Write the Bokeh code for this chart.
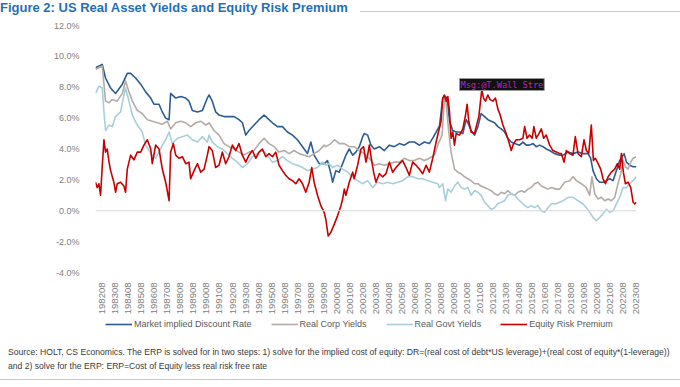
import math
from bokeh.plotting import figure
from bokeh.layouts import column
from bokeh.models import (Range1d, FixedTicker, PrintfTickFormatter, CustomJSTickFormatter,
                          Span, Label, Legend, LegendItem, Div)
from bokeh.embed import file_html
from bokeh.resources import INLINE

TITLE = "Figure 2: US Real Asset Yields and Equity Risk Premium"
SOURCE_1 = ("Source: HOLT, CS Economics. The ERP is solved for in two steps: 1) solve for the implied cost of equity: "
            "DR=(real cost of debt*US leverage)+(real cost of equity*(1-leverage))")
SOURCE_2 = "and 2) solve for the ERP: ERP=Cost of Equity less real risk free rate"
WATERMARK = "Msg:@T.Wall Stre"

series_names = ["Market implied Discount Rate", "Real Corp Yields", "Real Govt Yields", "Equity Risk Premium"]
y_ticks = [-4, -2, 0, 2, 4, 6, 8, 10, 12]
tick_years = [y + 0.5833 for y in range(1982, 2024)]
tick_labels = [f"{y}08" for y in range(1982, 2024)]

# (decimal year, %)
discount_rate = [
    (1982.06, 9.26), (1982.58, 9.48), (1982.83, 8.6), (1983.22, 7.95), (1983.6, 7.6), (1984.12, 8.2),
    (1984.5, 8.9), (1984.76, 8.9), (1985.14, 8.6), (1985.53, 8.2), (1985.91, 7.7), (1986.3, 7.3),
    (1986.55, 6.9), (1986.94, 6.9), (1987.19, 6.4), (1987.45, 6.0), (1987.71, 5.9), (1987.83, 7.6),
    (1988.22, 7.3), (1988.6, 7.4), (1988.99, 7.3), (1989.24, 7.1), (1989.5, 6.5), (1989.89, 6.4),
    (1990.27, 6.5), (1990.65, 7.3), (1990.78, 7.5), (1991.03, 7.1), (1991.29, 6.4), (1991.55, 6.2),
    (1991.93, 6.1), (1992.31, 6.1), (1992.7, 6.1), (1993.08, 5.9), (1993.34, 5.7), (1993.6, 4.9),
    (1993.85, 5.2), (1994.24, 5.55), (1994.62, 5.9), (1995.01, 6.2), (1995.26, 6.0), (1995.65, 5.7),
    (1996.03, 5.45), (1996.42, 5.45), (1996.8, 5.1), (1997.19, 4.9), (1997.57, 4.6), (1997.96, 4.15),
    (1998.34, 3.7), (1998.6, 4.45), (1998.85, 3.6), (1999.24, 3.05), (1999.63, 3.05), (1999.88, 3.25),
    (2000.14, 2.4), (2000.27, 1.85), (2000.52, 2.6), (2000.78, 2.5), (2001.04, 3.05), (2001.29, 3.6),
    (2001.55, 4.0), (2001.81, 3.6), (2002.06, 3.8), (2002.32, 4.15), (2002.58, 4.8), (2002.7, 5.0),
    (2002.96, 4.9), (2003.22, 4.25), (2003.47, 4.0), (2003.86, 4.15), (2004.24, 3.9), (2004.63, 4.25),
    (2005.01, 4.15), (2005.4, 4.35), (2005.78, 4.25), (2006.16, 4.45), (2006.55, 4.45), (2006.93, 4.25),
    (2007.32, 4.45), (2007.7, 4.35), (2007.96, 4.7), (2008.22, 5.1), (2008.48, 5.5), (2008.73, 7.3),
    (2008.91, 7.4), (2009.07, 7.3), (2009.25, 5.8), (2009.5, 5.2), (2009.76, 5.1), (2010.01, 5.1),
    (2010.27, 5.0), (2010.53, 5.9), (2010.66, 5.7), (2010.91, 5.2), (2011.17, 4.9), (2011.43, 5.45),
    (2011.68, 6.3), (2011.94, 6.1), (2012.2, 5.9), (2012.45, 5.8), (2012.71, 5.7), (2012.96, 5.45),
    (2013.22, 5.3), (2013.48, 5.1), (2013.73, 4.7), (2013.99, 4.45), (2014.25, 4.35), (2014.63, 4.25),
    (2014.89, 4.45), (2015.14, 4.25), (2015.4, 4.25), (2015.66, 4.35), (2015.91, 4.15), (2016.17, 4.25),
    (2016.43, 4.15), (2016.68, 4.0), (2016.94, 3.9), (2017.32, 3.7), (2017.71, 3.6), (2017.96, 3.6),
    (2018.35, 3.8), (2018.73, 3.7), (2019.12, 3.8), (2019.5, 3.7), (2019.89, 3.7), (2020.09, 3.4),
    (2020.27, 2.6), (2020.53, 2.07), (2020.78, 1.85), (2021.04, 1.85), (2021.3, 1.95), (2021.55, 2.07),
    (2021.81, 1.95), (2022.07, 2.6), (2022.32, 3.25), (2022.5, 3.5), (2022.66, 3.7), (2022.84, 3.15),
    (2023.09, 2.95), (2023.35, 2.85), (2023.6, 2.85),
]

real_corp = [
    (1982.06, 9.15), (1982.32, 9.26), (1982.58, 9.37), (1982.83, 7.1), (1983.09, 7.0), (1983.35, 7.2),
    (1983.73, 7.1), (1984.12, 7.6), (1984.37, 8.4), (1984.63, 7.7), (1984.89, 7.1), (1985.27, 6.5),
    (1985.65, 6.3), (1986.04, 5.9), (1986.42, 5.8), (1986.81, 5.7), (1987.19, 5.6), (1987.58, 5.8),
    (1987.83, 5.3), (1988.22, 5.7), (1988.6, 5.8), (1988.99, 5.7), (1989.37, 5.45), (1989.76, 5.7),
    (1990.14, 5.8), (1990.53, 5.55), (1990.78, 5.7), (1991.16, 5.2), (1991.55, 4.9), (1991.93, 4.35),
    (1992.31, 4.15), (1992.7, 4.0), (1993.08, 3.8), (1993.47, 3.6), (1993.85, 3.8), (1994.24, 3.9),
    (1994.62, 4.35), (1995.01, 4.7), (1995.39, 4.35), (1995.78, 4.15), (1996.16, 3.8), (1996.55, 3.9),
    (1996.93, 3.7), (1997.31, 3.9), (1997.7, 3.7), (1998.08, 3.6), (1998.47, 3.5), (1998.85, 3.7),
    (1999.24, 3.9), (1999.62, 4.25), (1999.75, 4.15), (2000.14, 4.35), (2000.4, 4.6), (2000.78, 4.35),
    (2001.17, 4.35), (2001.55, 4.15), (2001.93, 4.15), (2002.32, 3.9), (2002.7, 3.7), (2003.09, 3.4),
    (2003.47, 2.95), (2003.86, 3.05), (2004.24, 2.95), (2004.63, 3.05), (2005.01, 3.15), (2005.4, 3.15),
    (2005.78, 3.4), (2006.16, 3.25), (2006.55, 3.25), (2006.93, 3.4), (2007.32, 3.25), (2007.7, 3.4),
    (2008.09, 3.6), (2008.34, 4.25), (2008.68, 4.9), (2008.86, 7.3), (2008.99, 7.0), (2009.19, 5.1),
    (2009.37, 3.8), (2009.63, 2.7), (2009.89, 2.5), (2010.14, 2.4), (2010.4, 2.2), (2010.66, 2.07),
    (2010.91, 1.95), (2011.17, 1.75), (2011.43, 1.75), (2011.68, 1.6), (2011.94, 1.5), (2012.2, 1.4),
    (2012.45, 1.3), (2012.71, 1.1), (2012.96, 1.0), (2013.22, 1.2), (2013.48, 1.1), (2013.73, 1.3),
    (2013.99, 1.1), (2014.25, 1.0), (2014.5, 1.2), (2014.76, 1.3), (2015.02, 1.2), (2015.27, 1.4),
    (2015.53, 1.5), (2015.78, 1.75), (2016.04, 1.85), (2016.3, 1.6), (2016.55, 1.5), (2016.81, 1.4),
    (2017.07, 1.5), (2017.45, 1.4), (2017.71, 1.4), (2018.09, 1.85), (2018.48, 1.95), (2018.73, 2.2),
    (2018.99, 1.95), (2019.37, 1.75), (2019.76, 1.5), (2020.01, 1.0), (2020.19, 2.2), (2020.4, 1.1),
    (2020.66, 0.76), (2020.91, 0.87), (2021.17, 0.65), (2021.43, 0.76), (2021.68, 0.65), (2021.94, 0.87),
    (2022.19, 1.75), (2022.4, 2.4), (2022.58, 3.25), (2022.76, 2.85), (2022.96, 2.7), (2023.17, 3.15),
    (2023.35, 3.4), (2023.6, 3.5),
]

real_govt = [
    (1982.06, 7.6), (1982.32, 8.06), (1982.58, 7.95), (1982.71, 6.4), (1982.83, 5.2), (1983.09, 5.55),
    (1983.35, 5.45), (1983.6, 6.1), (1983.99, 6.4), (1984.24, 7.5), (1984.37, 7.95), (1984.63, 7.1),
    (1984.89, 6.2), (1985.27, 5.55), (1985.65, 5.1), (1985.91, 4.25), (1986.17, 3.9), (1986.42, 3.6),
    (1986.68, 3.4), (1986.94, 3.8), (1987.19, 4.25), (1987.45, 4.6), (1987.71, 5.1), (1987.96, 4.35),
    (1988.35, 4.7), (1988.73, 4.8), (1989.12, 4.9), (1989.5, 4.6), (1989.89, 4.45), (1990.27, 4.8),
    (1990.65, 4.45), (1990.78, 4.9), (1991.03, 4.45), (1991.42, 4.15), (1991.8, 4.0), (1992.19, 3.7),
    (1992.57, 3.4), (1992.96, 3.15), (1993.34, 2.8), (1993.73, 3.05), (1994.11, 3.5), (1994.49, 3.7),
    (1994.88, 3.9), (1995.26, 3.6), (1995.65, 3.15), (1996.03, 3.25), (1996.42, 3.5), (1996.8, 3.25),
    (1997.19, 3.05), (1997.57, 2.95), (1997.96, 2.8), (1998.34, 2.6), (1998.73, 2.7), (1999.11, 2.8),
    (1999.49, 3.15), (1999.75, 2.95), (2000.01, 3.05), (2000.27, 2.8), (2000.65, 2.95), (2001.04, 2.7),
    (2001.42, 2.5), (2001.81, 2.2), (2002.19, 1.95), (2002.58, 1.75), (2002.96, 1.95), (2003.34, 1.5),
    (2003.73, 1.85), (2004.11, 1.75), (2004.5, 1.85), (2004.88, 1.75), (2005.27, 1.85), (2005.65, 1.95),
    (2006.04, 2.2), (2006.42, 2.2), (2006.81, 2.07), (2007.19, 2.07), (2007.58, 1.95), (2007.96, 1.85),
    (2008.34, 1.75), (2008.48, 1.5), (2008.73, 1.75), (2008.94, 0.65), (2009.12, 1.4), (2009.37, 1.2),
    (2009.63, 1.6), (2009.89, 1.85), (2010.14, 1.5), (2010.4, 1.4), (2010.66, 1.5), (2010.91, 1.0),
    (2011.17, 1.3), (2011.43, 1.2), (2011.68, 1.0), (2011.94, 0.55), (2012.2, 0.33), (2012.45, 0.1),
    (2012.71, 0.2), (2012.96, 0.45), (2013.22, 0.55), (2013.48, 0.65), (2013.73, 1.0), (2013.99, 1.1),
    (2014.25, 1.0), (2014.5, 0.76), (2014.76, 0.55), (2015.02, 0.33), (2015.27, 0.2), (2015.53, 0.33),
    (2015.78, 0.2), (2016.04, 0.33), (2016.3, 0.0), (2016.55, -0.1), (2016.81, 0.2), (2017.07, 0.45),
    (2017.45, 0.45), (2017.96, 0.65), (2018.35, 0.87), (2018.73, 0.87), (2019.12, 0.65), (2019.5, 0.44),
    (2019.76, 0.2), (2020.01, -0.1), (2020.27, -0.44), (2020.53, -0.65), (2020.78, -0.44), (2021.04, -0.2),
    (2021.3, 0.1), (2021.55, -0.1), (2021.81, 0.0), (2022.07, 0.44), (2022.32, 0.87), (2022.58, 1.5),
    (2022.84, 1.5), (2023.09, 1.75), (2023.35, 1.95), (2023.6, 2.2),
]

equity_risk_premium = [
    (1982.06, 1.85), (1982.19, 1.5), (1982.32, 1.75), (1982.45, 1.0), (1982.58, 2.9), (1982.71, 4.6),
    (1982.83, 3.8), (1982.96, 4.0), (1983.09, 3.2), (1983.22, 2.6), (1983.47, 1.85), (1983.6, 1.2),
    (1983.73, 1.75), (1983.99, 1.85), (1984.24, 1.6), (1984.37, 1.2), (1984.5, 2.7), (1984.76, 3.6),
    (1985.01, 3.3), (1985.27, 3.8), (1985.53, 3.8), (1985.78, 4.25), (1986.04, 4.6), (1986.3, 4.0),
    (1986.42, 3.05), (1986.68, 4.25), (1986.94, 4.0), (1987.19, 2.7), (1987.45, 1.85), (1987.71, 0.65),
    (1987.83, 3.8), (1988.04, 4.35), (1988.22, 3.6), (1988.47, 3.4), (1988.73, 3.5), (1988.99, 3.05),
    (1989.24, 3.15), (1989.37, 2.07), (1989.63, 2.6), (1989.89, 3.05), (1990.14, 2.5), (1990.4, 2.7),
    (1990.65, 3.6), (1990.78, 4.15), (1991.03, 3.9), (1991.29, 2.8), (1991.55, 2.95), (1991.8, 3.8),
    (1992.06, 3.05), (1992.31, 3.5), (1992.57, 4.25), (1992.83, 3.9), (1993.08, 4.35), (1993.34, 3.6),
    (1993.6, 3.15), (1993.85, 3.6), (1994.11, 3.9), (1994.37, 3.4), (1994.62, 3.8), (1994.88, 4.0),
    (1995.14, 3.5), (1995.39, 3.7), (1995.65, 3.5), (1995.9, 3.8), (1996.16, 2.95), (1996.42, 2.6),
    (1996.67, 2.3), (1996.93, 2.07), (1997.19, 1.95), (1997.44, 1.75), (1997.7, 2.07), (1997.96, 1.75),
    (1998.21, 1.2), (1998.47, 1.85), (1998.67, 2.8), (1998.85, 1.85), (1999.11, 1.0), (1999.37, 0.33),
    (1999.62, -0.1), (1999.75, -0.55), (1999.93, -1.63), (2000.14, -1.4), (2000.4, -0.87), (2000.65, -0.33),
    (2000.91, 0.33), (2001.04, 0.76), (2001.17, 1.4), (2001.29, 1.0), (2001.55, 1.85), (2001.81, 2.5),
    (2001.93, 2.07), (2002.19, 2.95), (2002.45, 4.0), (2002.65, 4.15), (2002.83, 3.15), (2002.96, 3.6),
    (2003.09, 4.25), (2003.22, 3.5), (2003.42, 2.5), (2003.6, 1.85), (2003.86, 2.4), (2004.11, 2.2),
    (2004.37, 2.4), (2004.63, 3.15), (2004.88, 2.5), (2005.14, 2.8), (2005.4, 3.05), (2005.65, 3.25),
    (2005.91, 2.8), (2006.16, 2.3), (2006.42, 3.15), (2006.68, 2.95), (2006.93, 2.7), (2007.19, 2.4),
    (2007.45, 2.95), (2007.7, 2.5), (2007.96, 3.4), (2008.22, 4.45), (2008.4, 5.1), (2008.6, 5.8),
    (2008.73, 7.3), (2008.86, 7.5), (2008.99, 7.1), (2009.12, 7.4), (2009.25, 6.4), (2009.37, 4.7),
    (2009.5, 5.1), (2009.63, 4.25), (2009.76, 5.0), (2010.01, 4.9), (2010.27, 5.3), (2010.48, 6.2),
    (2010.6, 6.9), (2010.73, 5.8), (2010.91, 5.1), (2011.17, 5.0), (2011.3, 5.45), (2011.5, 6.1),
    (2011.63, 7.1), (2011.73, 7.85), (2011.86, 7.3), (2012.01, 7.1), (2012.19, 7.5), (2012.37, 7.2),
    (2012.58, 7.1), (2012.78, 7.3), (2012.96, 6.6), (2013.14, 6.2), (2013.35, 5.55), (2013.6, 5.0),
    (2013.81, 4.45), (2013.99, 3.9), (2014.17, 4.35), (2014.37, 4.6), (2014.63, 4.6), (2014.89, 4.7),
    (2015.02, 5.45), (2015.2, 4.7), (2015.4, 4.9), (2015.6, 4.7), (2015.73, 5.45), (2015.91, 4.7),
    (2016.12, 5.0), (2016.3, 5.3), (2016.48, 4.7), (2016.68, 4.9), (2016.94, 4.25), (2017.19, 3.9),
    (2017.45, 3.8), (2017.71, 3.7), (2017.84, 3.7), (2018.04, 3.15), (2018.22, 3.9), (2018.48, 3.7),
    (2018.73, 3.6), (2018.91, 4.8), (2019.12, 3.7), (2019.37, 3.5), (2019.58, 4.6), (2019.76, 3.9),
    (2019.94, 3.7), (2020.14, 5.55), (2020.3, 3.25), (2020.45, 3.4), (2020.66, 3.05), (2020.86, 2.7),
    (2021.04, 2.07), (2021.22, 1.75), (2021.43, 2.2), (2021.68, 2.5), (2021.94, 2.7), (2022.14, 3.05),
    (2022.32, 2.7), (2022.45, 3.7), (2022.6, 2.5), (2022.76, 1.75), (2022.96, 1.85), (2023.17, 1.5),
    (2023.35, 0.55), (2023.48, 0.44), (2023.6, 0.55),
]

colors = ["#2C5D92", "#B5ABA6", "#A9CEDB", "#C80000"]
all_series = [discount_rate, real_corp, real_govt, equity_risk_premium]

GRAY_TXT = "#808080"
FONT = "Liberation Sans"

# ---- title block (0..15 px)
title_div = Div(width=680, height=15, text=(
    f'<div style="position:relative;width:680px;height:15px;font-family:\'{FONT}\',Arial,sans-serif;">'
    f'<span style="position:absolute;left:0px;top:0px;font-size:13px;font-weight:bold;color:#1F70B8;'
    f'line-height:15px;white-space:nowrap;">{TITLE}</span>'
    f'<div style="position:absolute;left:360px;width:320px;top:11px;height:0px;border-top:1px solid #C8C8C8;"></div>'
    f'</div>'), styles={"margin": "0px", "padding": "0px"})

# ---- chart (15..317 px)
p = figure(width=680, height=302, output_backend="svg", toolbar_location=None,
           x_range=Range1d(1982.06, 2023.61), y_range=Range1d(-4, 12),
           min_border_left=95, min_border_right=44, min_border_top=10, min_border_bottom=45)
p.outline_line_color = None
p.grid.visible = False
p.background_fill_color = "white"
p.border_fill_color = "white"

p.yaxis.ticker = FixedTicker(ticks=y_ticks)
p.yaxis.formatter = PrintfTickFormatter(format="%.1f%%")
p.yaxis.axis_line_color = None
p.yaxis.major_tick_line_color = None
p.yaxis.minor_tick_line_color = None
p.yaxis.major_label_standoff = 10
p.yaxis.major_label_text_font = FONT
p.yaxis.major_label_text_font_size = "9px"
p.yaxis.major_label_text_color = GRAY_TXT

p.xaxis.ticker = FixedTicker(ticks=tick_years)
p.xaxis.formatter = CustomJSTickFormatter(args=dict(labels=tick_labels), code="return labels[index];")
p.xaxis.major_label_orientation = math.pi / 2
p.xaxis.axis_line_color = None
p.xaxis.major_tick_line_color = None
p.xaxis.minor_tick_line_color = None
p.xaxis.major_label_standoff = 4
p.xaxis.major_label_text_font = FONT
p.xaxis.major_label_text_font_size = "9.5px"
p.xaxis.major_label_text_color = GRAY_TXT

p.add_layout(Span(location=0, dimension="width", line_color="#D9D9D9", line_width=1.2))

for name, data, c in zip(series_names, all_series, colors):
    xs = [d[0] for d in data]
    ys = [d[1] for d in data]
    p.line(xs, ys, line_color=c, line_width=1.6, line_join="round")

p.add_layout(Label(x=364, y=194, x_units="screen", y_units="screen", text=WATERMARK,
                   text_font="DejaVu Sans Mono", text_font_size="8.6px", text_color="#C41CC4",
                   text_baseline="top", background_fill_color="#111111", border_line_color="#9A9A9A",
                   border_line_width=1, padding=1))

# ---- legend strip (317..331 px); its frame is aligned with the chart frame by the column
lp = figure(width=680, height=14, output_backend="svg", toolbar_location=None,
            x_axis_type=None, y_axis_type=None, x_range=Range1d(0, 1), y_range=Range1d(0, 1),
            min_border_left=0, min_border_right=0, min_border_top=0, min_border_bottom=0)
lp.outline_line_color = None
lp.grid.visible = False
items = []
for name, data, c in zip(series_names, all_series, colors):
    # same series, outside this strip's ranges: only the legend swatch shows
    r = lp.line([d[0] for d in data], [d[1] for d in data], line_color=c, line_width=1.6)
    items.append(LegendItem(label=name, renderers=[r]))
legend = Legend(items=items, orientation="horizontal", location=(10, 1),
                glyph_width=27, glyph_height=12, label_height=12, label_standoff=2, spacing=19,
                padding=0, margin=0, border_line_color=None, background_fill_alpha=0,
                label_text_font=FONT, label_text_font_size="9px", label_text_color="#595959")
lp.add_layout(legend, "center")

# ---- source block (331..387 px)
src_div = Div(width=680, height=56, text=(
    f'<div style="position:relative;width:680px;height:56px;font-family:\'{FONT}\',Arial,sans-serif;'
    f'font-size:8.6px;color:#3A3A3A;line-height:14px;">'
    f'<div style="position:absolute;left:8px;top:14px;white-space:nowrap;">{SOURCE_1}</div>'
    f'<div style="position:absolute;left:8px;top:28px;white-space:nowrap;">{SOURCE_2}</div>'
    f'<div style="position:absolute;left:0px;width:680px;top:48px;height:0px;border-top:1.5px solid #C8C8C8;"></div>'
    f'</div>'), styles={"margin": "0px", "padding": "0px"})

layout = column(title_div, p, lp, src_div, spacing=0,
                styles={"position": "absolute", "left": "0px", "top": "0px"})

open("out.html", "w").write(file_html(layout, INLINE))
